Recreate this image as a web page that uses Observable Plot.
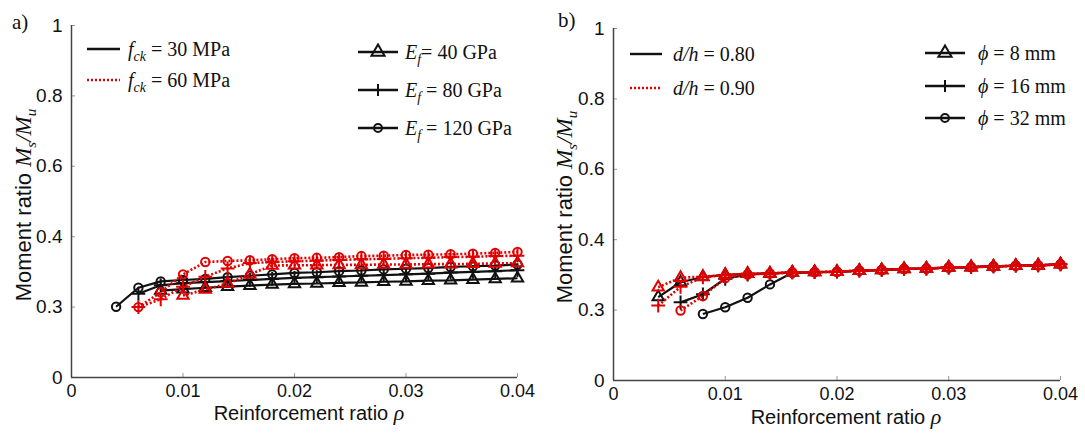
<!DOCTYPE html>
<html><head><meta charset="utf-8">
<script src="https://cdn.jsdelivr.net/npm/d3@7"></script>
<script src="https://cdn.jsdelivr.net/npm/@observablehq/plot@0.6"></script>
<style>
body{margin:0;background:#fff;}
#wrap{position:relative;width:1085px;height:440px;background:#fff;}
#wrap > svg{position:absolute;top:0;overflow:visible;}
</style></head><body><div id="wrap"></div>
<script>
// ---------- data ----------
const rho = [0.004,0.006,0.008,0.010,0.012,0.014,0.016,0.018,0.020,0.022,0.024,0.026,0.028,0.030,0.032,0.034,0.036,0.038,0.040];
const yTickValues = [0,0.2,0.4,0.6,0.8,1];
const yTickLabels = ["0","0.3","0.4","0.6","0.8","1"];
const xTickValues = [0,0.01,0.02,0.03,0.04];
const xTickLabels = ["0","0.01","0.02","0.03","0.04"];

// panel a) : f_ck 30 MPa (black, solid), 60 MPa (red, dotted); E_f 40/80/120 GPa
const a_fck30_Ef40  = [null,null,0.247,0.251,0.255,0.258,0.261,0.264,0.266,0.267,0.269,0.270,0.272,0.273,0.275,0.276,0.278,0.280,0.282];
const a_fck30_Ef80  = [null,0.238,0.262,0.268,0.271,0.274,0.277,0.280,0.283,0.285,0.287,0.289,0.291,0.293,0.295,0.298,0.300,0.302,0.305];
const a_fck30_Ef120 = [0.201,0.255,0.273,0.277,0.280,0.285,0.289,0.293,0.297,0.299,0.302,0.304,0.307,0.309,0.311,0.314,0.316,0.318,0.321];
const a_fck60_Ef40  = [null,null,null,0.233,0.250,0.267,0.293,0.318,0.319,0.319,0.320,0.320,0.321,0.321,0.322,0.322,0.323,0.324,0.325];
const a_fck60_Ef80  = [null,0.200,0.222,0.258,0.286,0.310,0.325,0.328,0.330,0.332,0.334,0.336,0.337,0.339,0.340,0.342,0.343,0.345,0.346];
const a_fck60_Ef120 = [null,0.200,0.242,0.293,0.328,0.331,0.333,0.336,0.339,0.340,0.342,0.345,0.346,0.348,0.349,0.350,0.352,0.354,0.357];

// panel b) : d/h 0.80 (black, solid), 0.90 (red, dotted); phi 8/16/32 mm
const b_dh80_phi8  = [0.237,0.279,0.294,0.300,0.303,0.304,0.307,0.308,0.309,0.312,0.314,0.317,0.318,0.321,0.322,0.324,0.326,0.327,0.330];
const b_dh80_phi16 = [null,0.222,0.245,0.289,0.301,0.304,0.307,0.308,0.309,0.312,0.314,0.317,0.318,0.321,0.322,0.324,0.326,0.327,0.330];
const b_dh80_phi32 = [null,null,0.189,0.208,0.235,0.273,0.306,0.308,0.309,0.312,0.314,0.317,0.318,0.321,0.322,0.324,0.326,0.327,0.330];
const b_dh90_phi8  = [0.265,0.292,0.295,0.300,0.303,0.304,0.307,0.308,0.309,0.312,0.314,0.317,0.318,0.321,0.322,0.324,0.326,0.327,0.330];
const b_dh90_phi16 = [0.213,0.266,0.293,0.300,0.303,0.304,0.307,0.308,0.309,0.312,0.314,0.317,0.318,0.321,0.322,0.324,0.326,0.327,0.330];
const b_dh90_phi32 = [null,0.199,0.240,0.291,0.301,0.304,0.307,0.308,0.309,0.312,0.314,0.317,0.318,0.321,0.322,0.324,0.326,0.327,0.330];

const BLACK = "#111111", RED = "#e00000";
const SANS = "'Liberation Sans', Arial, sans-serif";
const SERIF = "'Liberation Serif', 'Times New Roman', serif";

function rows(values){ return rho.map((x,i)=>({x, y: values[i]})).filter(d=>d.y!=null); }

function seriesMarks(values, color, symbol){
  const data = rows(values);
  const red = color === RED;
  return [
    Plot.line(data, {x:"x", y:"y", stroke: color, strokeWidth: red ? 2.6 : 2.2,
      strokeDasharray: red ? "2,2" : null, strokeLinecap: "butt", strokeLinejoin: "miter"}),
    Plot.dot(data, {x:"x", y:"y", symbol, r: symbol==="plus" ? 4.5 : 4.2, stroke: color, strokeWidth: 2, fill: "none"})
  ];
}

function makePlot(width, margins, series){
  return Plot.plot({
    width, height: 440,
    marginLeft: margins[0], marginRight: margins[1], marginTop: margins[2], marginBottom: margins[3],
    style: {fontFamily: SANS, fontSize: "18px", color: "#111", background: "transparent", overflow: "visible"},
    x: {domain: [0, 0.04]},
    y: {domain: [0, 1]},
    marks: [
      Plot.axisY({ticks: yTickValues, tickFormat: d => yTickLabels[yTickValues.indexOf(d)], tickSize: -4, tickPadding: 13, label: null, stroke: "#999", fontSize: 19}),
      Plot.axisX({ticks: xTickValues, tickFormat: d => xTickLabels[xTickValues.indexOf(d)], tickSize: -4, tickPadding: 11, label: null, stroke: "#999", fontSize: 18}),
      Plot.ruleX([0], {stroke: "#444", strokeWidth: 1.5}),
      Plot.ruleY([0], {stroke: "#444", strokeWidth: 1.5}),
      ...series
    ]
  });
}

const wrap = document.getElementById("wrap");

const plotA = makePlot(542, [71, 25, 25, 63], [
  ...seriesMarks(a_fck30_Ef40, BLACK, "triangle"),
  ...seriesMarks(a_fck30_Ef80, BLACK, "plus"),
  ...seriesMarks(a_fck30_Ef120, BLACK, "circle"),
  ...seriesMarks(a_fck60_Ef40, RED, "triangle"),
  ...seriesMarks(a_fck60_Ef80, RED, "plus"),
  ...seriesMarks(a_fck60_Ef120, RED, "circle")
]);
plotA.style.left = "0px";
wrap.appendChild(plotA);

const plotB = makePlot(543, [71, 25, 28, 60], [
  ...seriesMarks(b_dh80_phi8, BLACK, "triangle"),
  ...seriesMarks(b_dh80_phi16, BLACK, "plus"),
  ...seriesMarks(b_dh80_phi32, BLACK, "circle"),
  ...seriesMarks(b_dh90_phi8, RED, "triangle"),
  ...seriesMarks(b_dh90_phi16, RED, "plus"),
  ...seriesMarks(b_dh90_phi32, RED, "circle")
]);
plotB.style.left = "542px";
wrap.appendChild(plotB);

// ---------- annotations ----------
const symbolPaths = {
  triangle: d3.symbol(d3.symbolTriangle, 75)(),
  plus: d3.symbol(d3.symbolPlus, 50)(),
  circle: d3.symbol(d3.symbolCircle, 50)()
};

function annotate(svg, o){
  const g = d3.select(svg).append("g").attr("text-anchor", "start");
  // panel label
  g.append("text").attr("x", o.label[0]).attr("y", o.label[1]).attr("text-anchor", "start")
    .attr("font-family", SERIF).attr("font-size", 21).attr("fill", "#111").text(o.labelText);
  // y title
  const yt = g.append("text").attr("transform", `translate(${o.ytitle[0]},${o.ytitle[1]}) rotate(-90)`)
    .attr("text-anchor", "middle").attr("font-family", SANS).attr("font-size", 22).attr("fill", "#111");
  yt.append("tspan").text("Moment ratio ");
  yt.append("tspan").attr("font-family", SERIF).attr("font-style", "italic").attr("font-size", 23).text("M");
  yt.append("tspan").attr("font-family", SERIF).attr("font-style", "italic").attr("font-size", 15).attr("dy", 5).text("s");
  yt.append("tspan").attr("font-family", SERIF).attr("font-style", "italic").attr("font-size", 23).attr("dy", -5).text("/M");
  yt.append("tspan").attr("font-family", SERIF).attr("font-style", "italic").attr("font-size", 15).attr("dy", 5).text("u");
  // x title
  const xt = g.append("text").attr("x", o.xtitle[0]).attr("y", o.xtitle[1]).attr("text-anchor", "middle")
    .attr("font-family", SANS).attr("font-size", 20).attr("fill", "#111");
  xt.append("tspan").text("Reinforcement ratio ");
  xt.append("tspan").attr("font-family", SERIF).attr("font-style", "italic").attr("font-size", 22).text("ρ");
  // legends
  for (const item of o.legend){
    const red = item.color === RED;
    g.append("line").attr("x1", item.x1).attr("x2", item.x2).attr("y1", item.y).attr("y2", item.y)
      .attr("stroke", item.color).attr("stroke-width", 2.4).attr("stroke-dasharray", red ? "2,2" : null);
    if (item.symbol) g.append("path").attr("d", symbolPaths[item.symbol])
      .attr("transform", `translate(${(item.x1+item.x2)/2},${item.y})`)
      .attr("fill", "none").attr("stroke", item.color).attr("stroke-width", 2);
    const t = g.append("text").attr("x", item.tx).attr("y", item.y + 7).attr("text-anchor", "start")
      .attr("font-family", SERIF).attr("font-size", 20).attr("fill", "#111");
    for (const part of item.text){
      const s = t.append("tspan").text(part.t);
      if (part.i) s.attr("font-style", "italic");
      if (part.sub) s.attr("font-size", 14).attr("dy", 5);
      if (part.up) s.attr("dy", -5);
    }
  }
}

annotate(plotA, {
  label: [12, 29], labelText: "a)",
  ytitle: [31, 205], xtitle: [309, 420],
  legend: [
    {x1: 87, x2: 120, y: 49, color: BLACK, tx: 128, text: [{t:"f", i:1},{t:"ck", i:1, sub:1},{t:" = 30 MPa", up:1}]},
    {x1: 87, x2: 120, y: 80, color: RED, tx: 128, text: [{t:"f", i:1},{t:"ck", i:1, sub:1},{t:" = 60 MPa", up:1}]},
    {x1: 358, x2: 398, y: 52, color: BLACK, symbol: "triangle", tx: 405, text: [{t:"E", i:1},{t:"f", i:1, sub:1},{t:"= 40 GPa", up:1}]},
    {x1: 358, x2: 398, y: 90, color: BLACK, symbol: "plus", tx: 405, text: [{t:"E", i:1},{t:"f", i:1, sub:1},{t:" = 80 GPa", up:1}]},
    {x1: 358, x2: 398, y: 128, color: BLACK, symbol: "circle", tx: 405, text: [{t:"E", i:1},{t:"f", i:1, sub:1},{t:" = 120 GPa", up:1}]}
  ]
});

annotate(plotB, {
  label: [16, 27], labelText: "b)",
  ytitle: [30, 207], xtitle: [304, 424],
  legend: [
    {x1: 88, x2: 120, y: 54, color: BLACK, tx: 131, text: [{t:"d/h", i:1},{t:" = 0.80"}]},
    {x1: 88, x2: 120, y: 88, color: RED, tx: 131, text: [{t:"d/h", i:1},{t:" = 0.90"}]},
    {x1: 383, x2: 423, y: 53, color: BLACK, symbol: "triangle", tx: 436, text: [{t:"ϕ", i:1},{t:" = 8 mm"}]},
    {x1: 383, x2: 423, y: 86, color: BLACK, symbol: "plus", tx: 436, text: [{t:"ϕ", i:1},{t:" = 16 mm"}]},
    {x1: 383, x2: 423, y: 118, color: BLACK, symbol: "circle", tx: 436, text: [{t:"ϕ", i:1},{t:" = 32 mm"}]}
  ]
});
</script>
</body></html>
